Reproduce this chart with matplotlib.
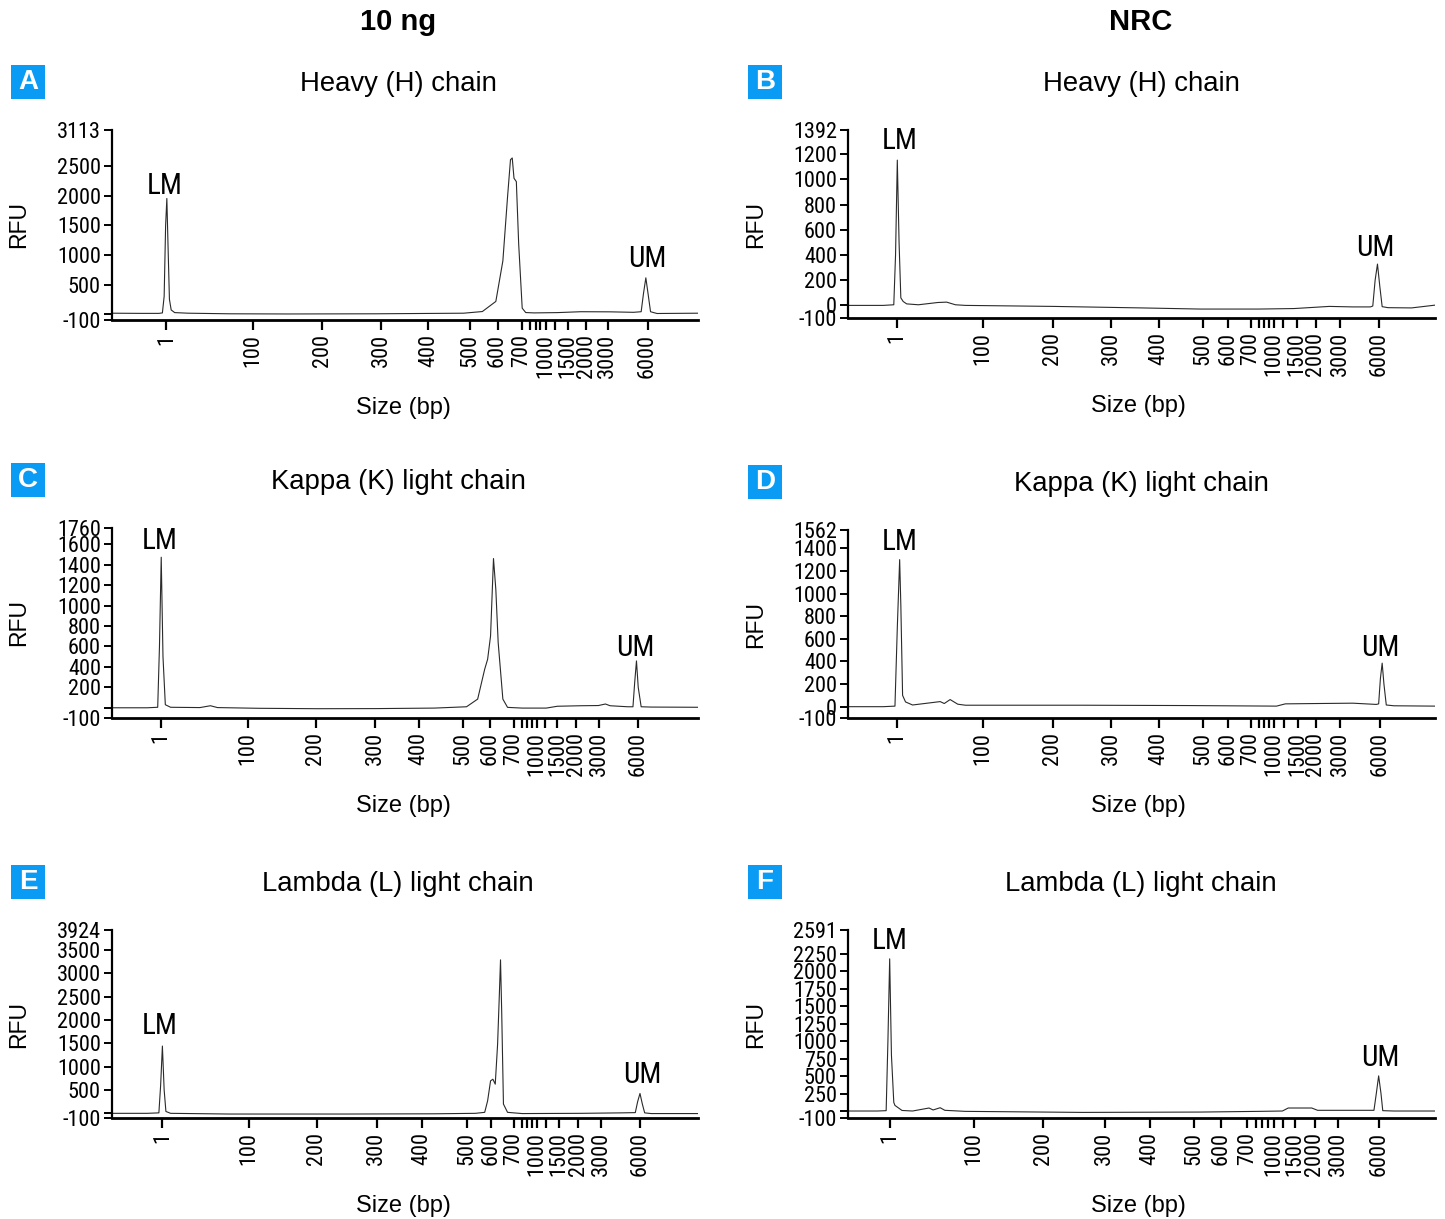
import numpy as np
import matplotlib
matplotlib.use("Agg")
import matplotlib.pyplot as plt
from matplotlib.patches import Rectangle

narrow = ['Roboto Condensed', 'Liberation Sans', 'DejaVu Sans']
wide = ['Liberation Sans', 'DejaVu Sans']
plt.rcParams['font.family'] = narrow

W, H = 1445, 1219

# size ladder shown under every x axis
size_labels = ['1', '100', '200', '300', '400', '500', '600', '700', '1000', '1500', '2000', '3000', '6000']
size_bp = [1, 100, 200, 300, 400, 500, 600, 700, 1000, 1500, 2000, 3000, 6000]
minor_bp = [800, 870, 930, 1200]

# tick positions (fraction of axis width)
ticks_a = [0.093, 0.240, 0.359, 0.459, 0.540, 0.611, 0.658, 0.699, 0.741, 0.778, 0.809, 0.846, 0.914]
ticks_b = [0.083, 0.230, 0.349, 0.448, 0.529, 0.604, 0.648, 0.686, 0.726, 0.765, 0.797, 0.838, 0.904]
ticks_c = [0.084, 0.232, 0.348, 0.449, 0.524, 0.599, 0.645, 0.686, 0.725, 0.760, 0.792, 0.831, 0.897]
ticks_d = [0.084, 0.230, 0.349, 0.448, 0.529, 0.604, 0.648, 0.686, 0.726, 0.767, 0.797, 0.838, 0.906]
ticks_e = [0.086, 0.234, 0.349, 0.452, 0.529, 0.605, 0.647, 0.686, 0.725, 0.763, 0.796, 0.835, 0.901]
ticks_f = [0.071, 0.214, 0.333, 0.437, 0.514, 0.589, 0.636, 0.680, 0.726, 0.762, 0.795, 0.835, 0.904]

# traces (x = fraction of axis, y = RFU)
a_x = [0.0, 0.05, 0.080, 0.086, 0.089, 0.0915, 0.0936, 0.0955, 0.098, 0.101, 0.107, 0.13, 0.20, 0.30, 0.45,
       0.60, 0.632, 0.655, 0.667, 0.675, 0.680, 0.683, 0.686, 0.690, 0.694, 0.700, 0.706, 0.72, 0.76, 0.80,
       0.85, 0.89, 0.903, 0.907, 0.911, 0.914, 0.919, 0.93, 1.0]
a_y = [15, 12, 12, 20, 300, 1500, 1955, 1200, 250, 70, 25, 15, 5, 2, 5,
       15, 43, 214, 899, 1983, 2611, 2640, 2297, 2240, 1184, 100, 26, 20, 25, 40,
       38, 30, 40, 350, 613, 400, 40, 10, 15]

b_x = [0.0, 0.06, 0.078, 0.081, 0.084, 0.087, 0.090, 0.094, 0.10, 0.12, 0.153, 0.168, 0.183, 0.20, 0.35,
       0.50, 0.60, 0.70, 0.76, 0.82, 0.86, 0.89, 0.894, 0.898, 0.902, 0.906, 0.910, 0.92, 0.96, 1.0]
b_y = [0, 0, 5, 400, 1153, 500, 60, 31, 12, 5, 23, 26, 5, 0, -8,
       -20, -29, -29, -25, -8, -12, -12, -5, 200, 328, 150, -10, -18, -20, 2]

c_x = [0.0, 0.06, 0.078, 0.081, 0.084, 0.087, 0.091, 0.10, 0.15, 0.168, 0.18, 0.25, 0.35, 0.45, 0.55,
       0.605, 0.624, 0.636, 0.641, 0.646, 0.649, 0.651, 0.655, 0.659, 0.667, 0.675, 0.70, 0.741, 0.76, 0.80,
       0.83, 0.842, 0.85, 0.88, 0.889, 0.892, 0.895, 0.898, 0.903, 0.92, 1.0]
c_y = [0, 0, 5, 600, 1474, 500, 30, 5, 2, 20, 2, -5, -9, -8, -3,
       10, 85, 378, 475, 703, 1158, 1461, 1158, 638, 85, 4, -3, -3, 15, 20,
       22, 37, 20, 10, 10, 250, 459, 200, 10, 7, 5]

d_x = [0.0, 0.06, 0.080, 0.084, 0.088, 0.090, 0.093, 0.098, 0.11, 0.157, 0.164, 0.174, 0.187, 0.20, 0.40,
       0.58, 0.73, 0.745, 0.80, 0.86, 0.90, 0.904, 0.907, 0.910, 0.913, 0.917, 0.93, 1.0]
d_y = [0, 0, 5, 700, 1300, 900, 100, 42, 15, 45, 28, 63, 22, 13, 13,
       10, 5, 25, 28, 31, 20, 25, 250, 385, 200, 15, 8, 5]

e_x = [0.0, 0.06, 0.080, 0.083, 0.086, 0.089, 0.092, 0.10, 0.20, 0.40, 0.55, 0.62, 0.636, 0.641, 0.646,
       0.650, 0.654, 0.658, 0.661, 0.663, 0.665, 0.668, 0.675, 0.70, 0.80, 0.87, 0.893, 0.897, 0.901, 0.905,
       0.909, 0.92, 1.0]
e_y = [0, 0, 10, 600, 1440, 500, 40, 0, -15, -15, -10, 0, 21, 269, 695,
       730, 624, 1475, 2540, 3285, 2185, 198, 21, -5, 0, 10, 15, 250, 425, 200,
       10, -5, -5]

f_x = [0.0, 0.05, 0.065, 0.068, 0.071, 0.074, 0.078, 0.080, 0.092, 0.11, 0.138, 0.145, 0.157, 0.165, 0.20,
       0.40, 0.60, 0.70, 0.74, 0.75, 0.79, 0.80, 0.88, 0.896, 0.900, 0.904, 0.908, 0.911, 0.93, 1.0]
f_y = [0, 0, 5, 1000, 2178, 800, 123, 80, 8, 0, 43, 15, 47, 10, -5,
       -20, -15, -5, 0, 43, 43, 10, 10, 10, 250, 503, 250, 5, 0, 0]

# y ticks per panel ('' = unlabeled tick)
yt_a = [3113, 2500, 2000, 1500, 1000, 500, 0, -100]
yl_a = ['3113', '2500', '2000', '1500', '1000', '500', '', '-100']
yt_b = [1392, 1200, 1000, 800, 600, 400, 200, 0, -100]
yl_b = ['1392', '1200', '1000', '800', '600', '400', '200', '0', '-100']
yt_c = [1760, 1600, 1400, 1200, 1000, 800, 600, 400, 200, 0, -100]
yl_c = ['1760', '1600', '1400', '1200', '1000', '800', '600', '400', '200', '', '-100']
yt_d = [1562, 1400, 1200, 1000, 800, 600, 400, 200, 0, -100]
yl_d = ['1562', '1400', '1200', '1000', '800', '600', '400', '200', '0', '-100']
yt_e = [3924, 3500, 3000, 2500, 2000, 1500, 1000, 500, 0, -100]
yl_e = ['3924', '3500', '3000', '2500', '2000', '1500', '1000', '500', '', '-100']
yt_f = [2591, 2250, 2000, 1750, 1500, 1250, 1000, 750, 500, 250, 0, -100]
yl_f = ['2591', '2250', '2000', '1750', '1500', '1250', '1000', '750', '500', '250', '', '-100']

titles = ['Heavy (H) chain', 'Heavy (H) chain', 'Kappa (K) light chain', 'Kappa (K) light chain',
          'Lambda (L) light chain', 'Lambda (L) light chain']
letters = ['A', 'B', 'C', 'D', 'E', 'F']


def px_axes(fig, left, top, right, bottom):
    return fig.add_axes([left / W, 1 - bottom / H, (right - left) / W, (bottom - top) / H])


def panel(fig, box, xs, ys, ticks, yt, yl, title, letter, lm, um):
    left, top, right, bottom = box
    col_left = left < 700
    ax = px_axes(fig, left, top, right, bottom)
    ax.plot(xs, ys, color='#2a2a2a', lw=0.8)
    ax.set_xlim(0, 1)
    ax.set_ylim(yt[-1], yt[0])
    for s in ['top', 'right']:
        ax.spines[s].set_visible(False)
    ax.spines['left'].set_linewidth(1.6)
    ax.spines['bottom'].set_linewidth(2.0)
    ax.set_yticks(yt)
    ax.set_yticklabels(yl, fontsize=16, family=narrow)
    ax.set_xticks(ticks)
    ax.set_xticklabels(size_labels, rotation=90, fontsize=16, family=narrow, va='top')
    minor = np.interp(minor_bp, size_bp, ticks)
    ax.set_xticks(minor, minor=True)
    ax.tick_params(axis='x', which='both', direction='out', length=7, width=1.6, pad=3)
    ax.tick_params(axis='y', direction='out', length=6, width=1.4, pad=2)
    ax.set_ylabel('RFU', fontsize=16.5, family=wide)
    rx = 30 if col_left else 767
    ax.yaxis.set_label_coords((rx - left) / (right - left), 0.5)

    cx = 398 if col_left else 1141
    sx = 403 if col_left else 1138
    fig.text(sx / W, 1 - (bottom + 88) / H, 'Size (bp)', fontsize=17, family=wide,
             ha='center', va='center')
    fig.text(cx / W, 1 - (top - 46) / H, title, fontsize=19.8, family=wide,
             ha='center', va='center')
    lx = 11 if col_left else 748
    fig.patches.append(Rectangle((lx / W, 1 - (top - 31) / H), 34 / W, 34 / H,
                                 transform=fig.transFigure, fc='#0a9cf5', ec='none'))
    fig.text((lx + 17) / W, 1 - (top - 48) / H, letter, fontsize=20, family=wide, weight='bold',
             color='white', ha='center', va='center')
    fig.text(lm[0] / W, 1 - lm[1] / H, 'LM', fontsize=21, ha='center', va='center')
    fig.text(um[0] / W, 1 - um[1] / H, 'UM', fontsize=21, ha='center', va='center')
    return ax


fig = plt.figure(figsize=(14.45, 12.19), dpi=100)

panel(fig, (112, 130, 698, 320), a_x, a_y, ticks_a, yt_a, yl_a, titles[0], letters[0], (165, 186), (647, 259))
panel(fig, (848, 130, 1435, 318), b_x, b_y, ticks_b, yt_b, yl_b, titles[1], letters[1], (900, 141), (1375, 248))
panel(fig, (112, 528, 698, 718), c_x, c_y, ticks_c, yt_c, yl_c, titles[2], letters[2], (160, 541), (635, 648))
panel(fig, (848, 530, 1435, 718), d_x, d_y, ticks_d, yt_d, yl_d, titles[3], letters[3], (900, 542), (1380, 648))
panel(fig, (112, 930, 698, 1118), e_x, e_y, ticks_e, yt_e, yl_e, titles[4], letters[4], (160, 1026), (642, 1075))
panel(fig, (848, 930, 1435, 1118), f_x, f_y, ticks_f, yt_f, yl_f, titles[5], letters[5], (890, 941), (1380, 1058))

fig.text(398 / W, 1 - 22 / H, '10 ng', fontsize=21, weight='bold', family=wide, ha='center', va='center')
fig.text(1141 / W, 1 - 22 / H, 'NRC', fontsize=21, weight='bold', family=wide, ha='center', va='center')

fig.savefig('out.png', dpi=100)
